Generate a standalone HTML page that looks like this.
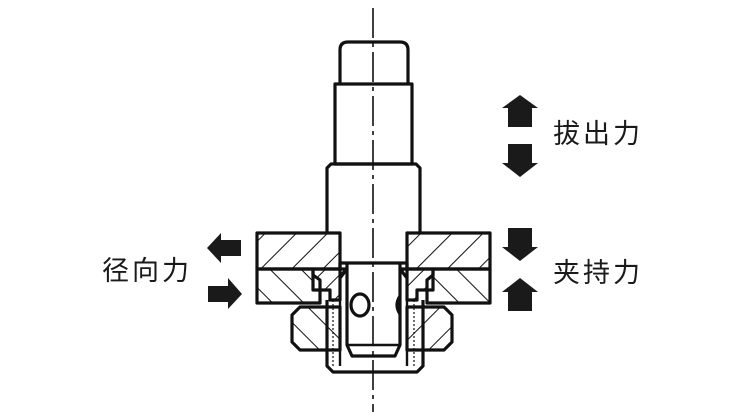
<!DOCTYPE html>
<html><head><meta charset="utf-8"><style>
html,body{margin:0;padding:0;background:#fff;width:750px;height:416px;overflow:hidden}
svg{position:absolute;left:0;top:0}
.t{font-family:"Liberation Sans","Noto Sans CJK SC",sans-serif;font-size:27px;fill:#1a1a1a;letter-spacing:3px}
</style></head><body>
<svg width="750" height="416" viewBox="0 0 750 416" xmlns="http://www.w3.org/2000/svg">
<defs>
<pattern id="h1" patternUnits="userSpaceOnUse" width="22" height="22" patternTransform="rotate(45)">
<line x1="0" y1="0" x2="0" y2="22" stroke="#111" stroke-width="2"/></pattern>
<pattern id="h2" patternUnits="userSpaceOnUse" width="22" height="22" patternTransform="rotate(-45)">
<line x1="0" y1="0" x2="0" y2="22" stroke="#111" stroke-width="2"/></pattern>
<pattern id="h3" patternUnits="userSpaceOnUse" width="14" height="14" patternTransform="rotate(45)">
<line x1="0" y1="0" x2="0" y2="14" stroke="#111" stroke-width="2"/></pattern>
</defs>
<g fill="none" stroke="#111" stroke-width="3.2" stroke-linejoin="round">
<path d="M340 84 V50 Q340 42 348 42 H400 Q408 42 408 50 V84"/>
<rect x="335" y="84" width="77" height="80"/>
<path d="M327 232 V168 L331 164 H416 L420 168 V232"/>
<path d="M257 233 H340 V269 H257 Z" fill="url(#h1)"/>
<path d="M407 233 H490 V269 H407 Z" fill="url(#h1)"/>
<path d="M257 269 H313 V290 H320 V303 H257 Z" fill="url(#h2)"/>
<path d="M433 269 H490 V303 H427 V290 H433 Z" fill="url(#h2)"/>
<path d="M313 269 H347 L340 278 V300 H330 V290 H320 V280 L313 275 Z" fill="url(#h3)"/>
<path d="M433 269 H400 L407 278 V300 H417 V290 H427 V280 L433 275 Z" fill="url(#h3)"/>
<path d="M327 300 V366 L333 372 H417 L423 366 V300"/>
<line x1="340" y1="300" x2="340" y2="366" stroke-width="2.4"/>
<line x1="407" y1="300" x2="407" y2="366" stroke-width="2.4"/>
<path d="M333 300 V366 M414 300 V366" stroke-width="1.2" stroke-dasharray="2 2"/>
<path d="M340 278 V263 H407 V278"/>
<path d="M347 263 V345 L352 356 H395 L400 345 V263"/>
<line x1="347" y1="345" x2="400" y2="345" stroke-width="2.4"/>
<ellipse cx="360" cy="305" rx="9" ry="11"/>
<path d="M400 296 Q394 305 400 314"/>
<path d="M300 307 H340 V350 H300 L292 342 V315 Z" fill="url(#h2)"/>
<path d="M407 307 H444 L452 315 V342 L444 350 H407 Z" fill="url(#h1)"/>
</g>
<line x1="373" y1="8" x2="373" y2="412" stroke="#111" stroke-width="1.6" stroke-dasharray="30 5 4 5"/>
<g fill="#1a1a1a">
<polygon points="520,95 538,108 532,108 532,127 508,127 508,108 502,108"/>
<polygon points="508,144 532,144 532,163 538,163 520,177 502,163 508,163"/>
<polygon points="508,228 532,228 532,247 538,247 520,261 502,247 508,247"/>
<polygon points="520,278 538,292 532,292 532,311 508,311 508,292 502,292"/>
<polygon points="207,248 221,233 221,240 241,240 241,256 221,256 221,263"/>
<polygon points="242,294 228,278 228,286 208,286 208,302 228,302 228,309"/>
</g>
<text class="t" x="553" y="143">拔出力</text>
<text class="t" x="553" y="282">夹持力</text>
<text class="t" x="102" y="280">径向力</text>
</svg>
</body></html>
